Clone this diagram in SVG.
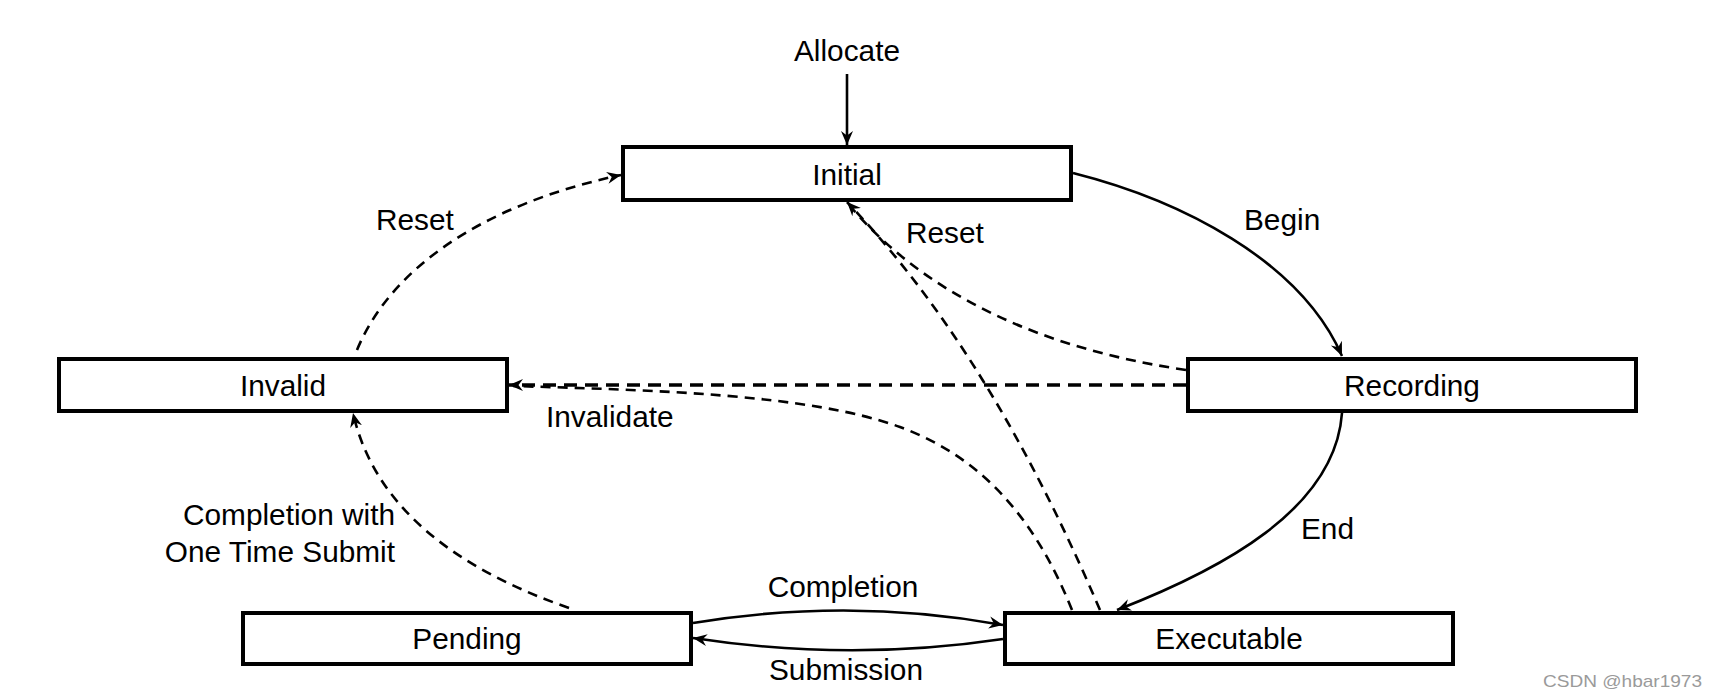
<svg xmlns="http://www.w3.org/2000/svg" width="1717" height="698" viewBox="0 0 1717 698">
<style>
.box{fill:#fff;stroke:#000;stroke-width:4}
.lbl{font-family:"Liberation Sans",Arial,Helvetica,sans-serif;font-size:29.8px;fill:#000}
.mid{text-anchor:middle}
.end{text-anchor:end}
.solid{fill:none;stroke:#000;stroke-width:2.6}
.dash{fill:none;stroke:#000;stroke-width:2.6;stroke-dasharray:10 7}
.dashb{fill:none;stroke:#000;stroke-width:3.6;stroke-dasharray:13 8}
.wm{font-family:"Liberation Sans",Arial,sans-serif;font-size:17px;fill:#9a9a9a}
</style>
<defs>
<marker id="ah" viewBox="-14 -7 15 14" refX="0" refY="0" markerWidth="15" markerHeight="14" orient="auto" markerUnits="userSpaceOnUse">
<path d="M0,0 L-14,-6 L-9.5,0 L-14,6 z" fill="#000"/>
</marker>
</defs>
<g id="connectors">
<path class="solid" d="M847,74 L847,145" marker-end="url(#ah)"/>
<path class="solid" d="M1073,173 C1180,200 1300,260 1342,356" marker-end="url(#ah)"/>
<path class="solid" d="M1342,413 C1335,510 1220,570 1117,610" marker-end="url(#ah)"/>
<path class="solid" d="M693,623 Q850,597 1003,625" marker-end="url(#ah)"/>
<path class="solid" d="M1003,639 Q850,662 693,638" marker-end="url(#ah)"/>
<path class="dash" d="M357,350 C390,270 480,205 621,175" marker-end="url(#ah)"/>
<path class="dash" d="M569,608 C460,570 375,510 353,413" marker-end="url(#ah)"/>
<path class="dash" d="M1100,610 C1040,470 960,320 847,202" marker-end="url(#ah)"/>
<path class="dash" d="M1186,370 C1050,350 930,300 850,206"/>
<path class="dash" d="M1072,610 C1040,530 990,460 900,427 S650,390 513,386"/>
<path class="dashb" d="M1186,385 L509,385" marker-end="url(#ah)"/>
</g>
<g id="labels">
<text class="lbl mid" x="847" y="61">Allocate</text>
<text class="lbl" x="376" y="230">Reset</text>
<text class="lbl" x="906" y="243">Reset</text>
<text class="lbl" x="1244" y="230">Begin</text>
<text class="lbl" x="546" y="427">Invalidate</text>
<text class="lbl" x="1301" y="539">End</text>
<text class="lbl end" x="395" y="525">Completion with</text>
<text class="lbl end" x="395" y="562">One Time Submit</text>
<text class="lbl mid" x="843" y="597">Completion</text>
<text class="lbl mid" x="846" y="680">Submission</text>
</g>
<g id="node-initial">
<rect class="box" x="623" y="147" width="448" height="53"/>
<text class="lbl mid" x="847" y="185">Initial</text>
</g>
<g id="node-invalid">
<rect class="box" x="59" y="359" width="448" height="52"/>
<text class="lbl mid" x="283" y="396">Invalid</text>
</g>
<g id="node-recording">
<rect class="box" x="1188" y="359" width="448" height="52"/>
<text class="lbl mid" x="1412" y="396">Recording</text>
</g>
<g id="node-pending">
<rect class="box" x="243" y="613" width="448" height="51"/>
<text class="lbl mid" x="467" y="649">Pending</text>
</g>
<g id="node-executable">
<rect class="box" x="1005" y="613" width="448" height="51"/>
<text class="lbl mid" x="1229" y="649">Executable</text>
</g>
<text class="wm" x="1543" y="687" textLength="159" lengthAdjust="spacingAndGlyphs">CSDN @hbar1973</text>
</svg>
